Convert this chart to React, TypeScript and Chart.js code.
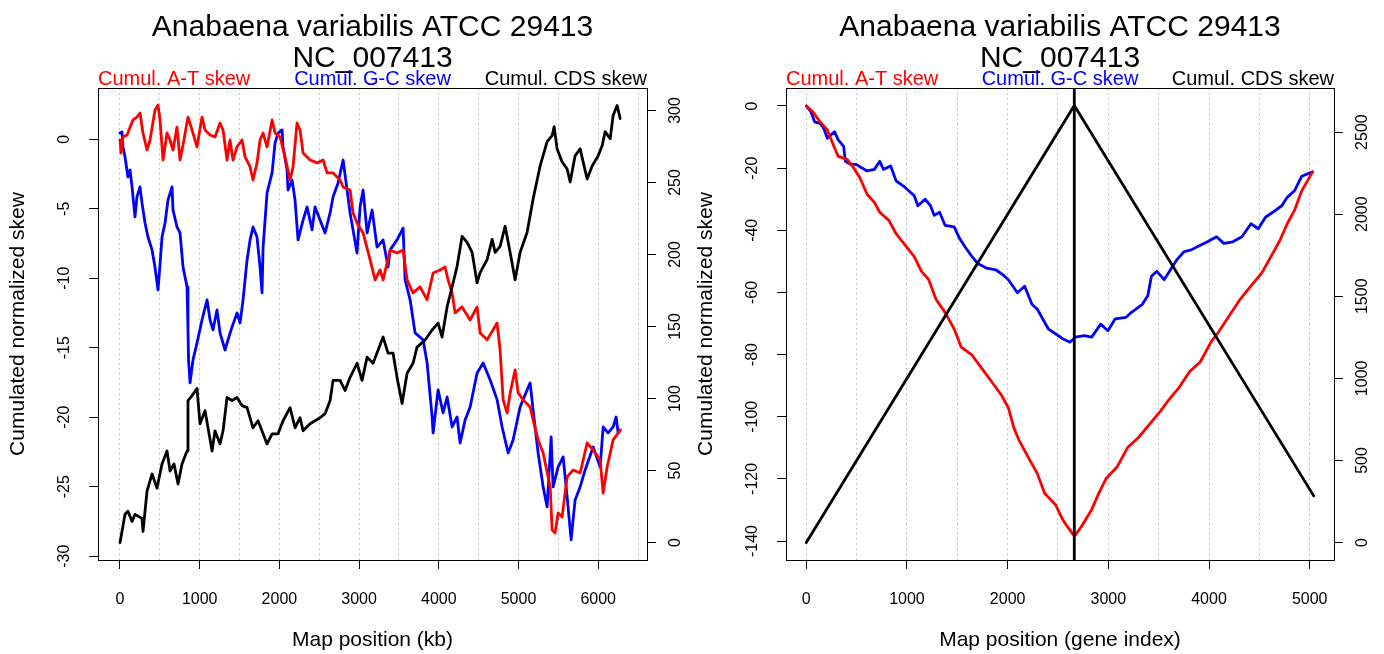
import React, { useEffect, useRef } from "react";
import { Chart, registerables } from "chart.js";

Chart.register(...registerables);

const FONT = "'Liberation Sans', Arial, Helvetica, sans-serif";
const W = 692;
const H = 654;

// ---------- texts ----------
const TITLE_LINES = ["Anabaena variabilis ATCC 29413", "NC_007413"];
const LEGEND_TEXTS = ["Cumul. A-T skew", "Cumul. G-C skew", "Cumul. CDS skew"];
const LEGEND_COLORS = ["#ff0000", "#0000ff", "#000000"];
const Y_TITLE = "Cumulated normalized skew";
const X_TITLE_KB = "Map position (kb)";
const X_TITLE_GENE = "Map position (gene index)";

// ---------- left panel data: position (kb) vs skew ----------
const AT_BY_KB: [number, number][] = [
  [0, -0.05], [13, -0.99], [38, 0.17], [88, 0.31], [163, 1.39], [213, 1.6], [251, 1.89], [288, 0.45],
  [339, -0.77], [377, -0.05], [439, 2.1], [477, 2.47], [502, 1.39], [540, -1.49], [590, 0.45], [628, -0.05],
  [665, -0.77], [715, 0.88], [753, -1.49], [791, -0.41], [853, 1.6], [904, 0.67], [966, -0.55], [1029, 1.6],
  [1067, 0.67], [1130, 0.31], [1192, 0.17], [1255, 1.17], [1293, 0.67], [1343, -1.49], [1380, -0.05],
  [1418, -1.49], [1468, -0.55], [1531, -0.05], [1569, -1.27], [1632, -1.99], [1669, -2.93], [1719, -1.7],
  [1757, -0.05], [1795, 0.45], [1845, -0.55], [1908, 1.39], [1945, 0.45], [2008, 0.17], [2071, -1.27],
  [2134, -2.93], [2171, -1.99], [2221, 1.17], [2259, 0.67], [2297, -0.99], [2385, -1.49], [2472, -1.7],
  [2548, -1.49], [2598, -2.42], [2673, -2.42], [2761, -2.93], [2799, -3.43], [2887, -3.65], [2924, -5.3],
  [2974, -6.02], [3050, -6.74], [3138, -8.68], [3200, -10.12], [3263, -9.4], [3301, -10.12], [3389, -7.96],
  [3476, -8.18], [3552, -7.96], [3602, -10.12], [3640, -10.62], [3677, -11.05], [3765, -10.62], [3853, -11.55],
  [3928, -9.62], [4016, -9.4], [4079, -9.19], [4116, -10.12], [4167, -11.05], [4204, -12.49], [4292, -12.06],
  [4393, -13.0], [4480, -12.06], [4518, -13.93], [4606, -14.43], [4681, -13.71], [4731, -13.22], [4769, -15.16],
  [4807, -18.75], [4857, -19.69], [4895, -18.25], [4957, -16.59], [4995, -18.25], [5058, -18.75], [5146, -19.26],
  [5183, -20.19], [5246, -21.63], [5309, -22.57], [5397, -25.01], [5422, -28.11], [5459, -28.32], [5497, -26.88],
  [5547, -27.17], [5610, -24.29], [5685, -23.79], [5773, -24.01], [5861, -21.85], [5936, -22.35], [6024, -23.07],
  [6062, -25.45], [6112, -23.58], [6187, -21.63], [6250, -21.13], [6275, -20.91],
];

const GC_BY_KB: [number, number][] = [
  [0, 0.45], [25, 0.53], [38, -0.55], [63, -1.27], [100, -2.71], [126, -2.21], [151, -3.43], [188, -5.59],
  [213, -4.15], [251, -3.43], [276, -4.58], [314, -6.02], [351, -7.03], [402, -7.96], [439, -9.19], [477, -10.84],
  [502, -9.04], [527, -7.03], [565, -6.02], [602, -4.37], [653, -3.43], [665, -5.09], [715, -6.31], [753, -6.74],
  [791, -9.19], [841, -10.62], [853, -13.71], [860, -15.87], [879, -17.53], [916, -15.87], [966, -14.65],
  [1029, -13.0], [1092, -11.55], [1130, -13.0], [1167, -13.71], [1217, -12.28], [1255, -13.93], [1318, -15.16],
  [1355, -14.43], [1406, -13.5], [1468, -12.49], [1506, -13.22], [1544, -11.55], [1594, -8.68], [1632, -7.24],
  [1669, -6.31], [1719, -7.03], [1757, -9.19], [1782, -11.05], [1795, -7.8], [1845, -3.86], [1908, -2.42],
  [1945, -0.27], [1983, 0.45], [2033, 0.67], [2046, -0.55], [2096, -2.21], [2108, -3.65], [2159, -2.93],
  [2196, -4.37], [2234, -7.24], [2297, -5.81], [2347, -4.87], [2410, -6.52], [2447, -4.87], [2510, -5.81],
  [2573, -6.74], [2636, -5.3], [2673, -4.15], [2736, -3.14], [2799, -1.49], [2849, -3.65], [2887, -5.3],
  [2924, -6.52], [2974, -8.18], [3012, -4.87], [3050, -3.65], [3100, -6.74], [3163, -5.09], [3225, -7.76],
  [3301, -7.24], [3363, -9.19], [3389, -7.96], [3476, -7.24], [3552, -6.39], [3577, -10.12], [3640, -11.55],
  [3702, -13.93], [3803, -14.43], [3853, -16.09], [3916, -19.98], [3928, -21.13], [3991, -18.03], [4054, -19.69],
  [4104, -18.54], [4167, -20.7], [4229, -19.98], [4267, -21.85], [4330, -20.19], [4393, -19.26], [4480, -16.81],
  [4556, -16.09], [4644, -17.32], [4732, -18.75], [4794, -20.7], [4870, -22.57], [4932, -21.63], [5020, -19.26],
  [5108, -18.03], [5146, -17.53], [5183, -19.47], [5246, -22.57], [5309, -25.01], [5359, -26.45], [5409, -21.42],
  [5434, -25.01], [5497, -23.57], [5560, -22.85], [5610, -25.73], [5660, -28.82], [5710, -25.95], [5773, -25.01],
  [5836, -23.79], [5936, -22.14], [6024, -23.58], [6062, -20.7], [6124, -21.13], [6187, -20.7], [6225, -19.98],
  [6250, -21.13], [6275, -20.91],
];

const CDS_BY_KB: [number, number][] = [
  [0, 0], [25, 7.7], [63, 19.6], [100, 21.7], [151, 14.7], [188, 19.6], [276, 16.8], [289, 7.7], [339, 35.7],
  [402, 47.6], [464, 37.8], [527, 54.5], [590, 63.6], [628, 49.7], [678, 54.5], [728, 40.6], [778, 54.5],
  [841, 63.6], [853, 98.6], [904, 102], [966, 107], [1004, 82.5], [1067, 91.6], [1155, 63.6], [1192, 77.6],
  [1255, 68.5], [1293, 77.6], [1343, 100.7], [1406, 98.6], [1468, 100.7], [1531, 95.1], [1594, 93.7],
  [1669, 79.7], [1732, 84.6], [1845, 68.5], [1908, 75.5], [1983, 75.5], [2046, 84.6], [2134, 93.7],
  [2196, 79.7], [2259, 86.7], [2297, 77.6], [2385, 82.5], [2510, 86.7], [2573, 89.5], [2636, 98.6],
  [2673, 112.6], [2761, 112.6], [2824, 105.6], [2887, 114.7], [2974, 124.5], [3037, 112.6], [3100, 128.7],
  [3175, 124.5], [3301, 142.7], [3363, 131.5], [3426, 131.5], [3476, 114.7], [3539, 96.5], [3602, 117.5],
  [3677, 124.5], [3727, 135.7], [3828, 140.6], [3916, 147.6], [3991, 152.4], [4041, 142.7], [4104, 163.6],
  [4167, 177.6], [4229, 191.6], [4292, 212.6], [4355, 208.4], [4418, 201.4], [4480, 180.4], [4518, 187.4],
  [4606, 196.5], [4669, 210.5], [4707, 201.4], [4769, 205.6], [4832, 219.6], [4895, 201.4], [4957, 182.5],
  [5020, 201.4], [5108, 215.4], [5183, 238.5], [5271, 261.5], [5359, 278.3], [5422, 282.5], [5447, 288.8],
  [5484, 273.4], [5547, 264.3], [5610, 259.4], [5648, 250.3], [5710, 268.5], [5773, 273.4], [5811, 264.3],
  [5861, 252.4], [5924, 261.5], [5999, 268.5], [6049, 275.5], [6087, 285.3], [6150, 280.4], [6187, 296.5],
  [6237, 303.5], [6275, 294.4],
];

// ---------- right panel data: gene index vs skew ----------
const AT_BY_GENE: [number, number][] = [
  [0, 0], [65, -1.9], [137, -5.1], [209, -7.7], [281, -13.5], [317, -16.2], [406, -17.2], [460, -19.4],
  [532, -23.1], [604, -28.4], [676, -31.0], [730, -34.2], [820, -36.8], [892, -41.1], [982, -44.8],
  [1072, -48.5], [1144, -53.2], [1216, -55.9], [1288, -62.2], [1378, -66.4], [1468, -71.7], [1539, -77.6],
  [1647, -80.2], [1719, -83.4], [1791, -86.5], [1863, -89.7], [1935, -92.9], [2007, -97.1], [2061, -103.5],
  [2115, -107.7], [2223, -114.1], [2295, -118.3], [2367, -124.6], [2475, -128.3], [2547, -133.1],
  [2601, -135.7], [2662, -138.4], [2726, -135.7], [2834, -129.9], [2906, -124.6], [2978, -119.9],
  [3086, -116.2], [3194, -109.8], [3302, -106.6], [3410, -102.4], [3518, -98.2], [3590, -95.0], [3698, -90.8],
  [3806, -85.5], [3914, -82.3], [4021, -75.9], [4093, -72.8], [4201, -67.5], [4309, -62.2], [4417, -57.9],
  [4525, -53.7], [4597, -49.5], [4705, -43.2], [4777, -37.9], [4849, -33.6], [4921, -27.3], [5029, -21.2],
];

const GC_BY_GENE: [number, number][] = [
  [0, 0], [47, -1.9], [83, -5.1], [137, -5.6], [173, -7.2], [209, -10.4], [245, -9.3], [281, -8.3],
  [317, -10.9], [371, -13.0], [388, -17.8], [442, -18.8], [496, -18.8], [550, -19.9], [604, -20.9],
  [676, -20.4], [730, -17.8], [766, -20.4], [838, -19.3], [892, -24.1], [982, -26.2], [1072, -28.9],
  [1108, -32.1], [1180, -30.0], [1234, -32.1], [1270, -35.2], [1324, -34.2], [1378, -38.4], [1468, -38.9],
  [1522, -42.6], [1576, -45.3], [1647, -48.5], [1701, -50.6], [1791, -52.2], [1881, -52.7], [1953, -54.3],
  [2007, -55.9], [2097, -60.1], [2169, -58.0], [2241, -63.8], [2295, -65.4], [2331, -67.5], [2403, -71.7],
  [2475, -73.3], [2547, -74.9], [2619, -76.0], [2673, -74.4], [2762, -73.9], [2834, -74.4], [2924, -70.2],
  [2996, -72.3], [3068, -68.5], [3176, -68.0], [3230, -66.4], [3338, -63.8], [3392, -61.1], [3428, -54.8],
  [3482, -53.2], [3554, -55.9], [3608, -53.2], [3680, -49.5], [3751, -46.9], [3823, -46.3], [3913, -44.8],
  [3985, -43.7], [4075, -42.1], [4147, -44.2], [4237, -43.7], [4327, -42.1], [4417, -37.9], [4489, -39.5],
  [4561, -35.8], [4633, -34.2], [4723, -32.1], [4777, -29.4], [4849, -27.3], [4921, -22.6], [5029, -21.2],
];

const CDS_BY_GENE: [number, number][] = [[0, 0], [2662, 2662], [5040, 284]];
const ORIGIN_GENE = 2662;

// ---------- ticks / grid ----------
const KB_TICKS = [0, 1000, 2000, 3000, 4000, 5000, 6000];
const KB_GRID = [0, 500, 1000, 1500, 2000, 2500, 3000, 3500, 4000, 4500, 5000, 5500, 6000, 6500];
const SKEW_TICKS_KB = [-30, -25, -20, -15, -10, -5, 0];
const CDS_TICKS_KB = [0, 50, 100, 150, 200, 250, 300];
const GENE_TICKS = [0, 1000, 2000, 3000, 4000, 5000];
const GENE_GRID = [0, 500, 1000, 1500, 2000, 2500, 3000, 3500, 4000, 4500, 5000];
const SKEW_TICKS_GENE = [-140, -120, -100, -80, -60, -40, -20, 0];
const CDS_TICKS_GENE = [0, 500, 1000, 1500, 2000, 2500];

// axis ranges
const KB_RANGE: [number, number] = [-276, 6612];
const SKEW_RANGE_KB: [number, number] = [-30.27, 3.69];
const CDS_RANGE_KB: [number, number] = [-12.1, 315.6];
const GENE_RANGE: [number, number] = [-201.6, 5241.6];
const SKEW_RANGE_GENE: [number, number] = [-146.1, 5.79];
const CDS_RANGE_GENE: [number, number] = [-106.5, 2768.5];

// ---------- layout constants ----------
const TICK_FONT = 16;
const LAB_FONT = 21;
const TITLE_FONT = 30;
const LEGEND_FONT = 20;
const TICK_LEN = 9;
const BOX_TOP = 88;
const BOX_BOTTOM = 560;

function maxTextWidth(labels: string[], size: number) {
  const c = document.createElement("canvas").getContext("2d")!;
  c.font = `${size}px ${FONT}`;
  return Math.max(...labels.map((l) => c.measureText(l).width));
}

const pts = (arr: [number, number][]) => arr.map(([x, y]) => ({ x, y }));

type PanelSpec = {
  left: number;
  right: number;
  xRange: [number, number];
  yRange: [number, number];
  y2Range: [number, number];
  xTicks: number[];
  xGrid: number[];
  yTicks: number[];
  y2Ticks: number[];
  xTitle: string;
  datasets: any[];
};

const decorPlugin = {
  id: "decor",
  afterDraw(chart: any) {
    const { ctx, chartArea } = chart;
    const { left, right, top, bottom } = chartArea;
    ctx.save();
    ctx.strokeStyle = "#000";
    ctx.lineWidth = 1;
    ctx.strokeRect(Math.round(left) + 0.5, Math.round(top) + 0.5, Math.round(right - left), Math.round(bottom - top));
    const cx = (left + right) / 2;
    ctx.fillStyle = "#000";
    ctx.textBaseline = "alphabetic";
    ctx.textAlign = "center";
    ctx.font = `${TITLE_FONT}px ${FONT}`;
    ctx.fillText(TITLE_LINES[0], cx, 36);
    ctx.fillText(TITLE_LINES[1], cx, 67);
    ctx.font = `${LEGEND_FONT}px ${FONT}`;
    const aligns: CanvasTextAlign[] = ["left", "center", "right"];
    const xs = [left, cx, right];
    LEGEND_TEXTS.forEach((t, i) => {
      ctx.fillStyle = LEGEND_COLORS[i];
      ctx.textAlign = aligns[i];
      ctx.fillText(t, xs[i], 85);
    });
    ctx.restore();
  },
};

function buildConfig(p: PanelSpec): any {
  const fmt = (v: any) => String(v);
  const yW = maxTextWidth(p.yTicks.map(fmt), TICK_FONT);
  const y2W = maxTextWidth(p.y2Ticks.map(fmt), TICK_FONT);
  const yPad = 33 - TICK_LEN - yW / 2;
  const y2Pad = 28.5 - TICK_LEN - y2W / 2;
  const xPad = 600 - BOX_BOTTOM - TICK_LEN - (TICK_FONT * 1.2) / 2;
  const setTicks = (list: number[]) => (s: any) => {
    s.ticks = list.map((v) => ({ value: v }));
  };
  return {
    type: "line",
    data: { datasets: p.datasets },
    options: {
      animation: false,
      responsive: false,
      devicePixelRatio: 1,
      events: [],
      layout: { padding: { left: 0, right: 0, top: BOX_TOP, bottom: 0 } },
      plugins: { legend: { display: false }, tooltip: { enabled: false }, title: { display: false } },
      elements: { point: { radius: 0 }, line: { tension: 0 } },
      scales: {
        x: {
          type: "linear",
          position: "bottom",
          min: p.xRange[0],
          max: p.xRange[1],
          afterBuildTicks: setTicks(p.xTicks),
          afterFit: (s: any) => {
            s.height = H - BOX_BOTTOM;
          },
          grid: { display: true, drawOnChartArea: false, drawTicks: true, tickLength: TICK_LEN, tickColor: "#000", color: "#000", lineWidth: 1 },
          border: { display: false },
          ticks: { display: true, font: { family: FONT, size: TICK_FONT }, color: "#000", padding: xPad, maxRotation: 0, minRotation: 0, autoSkip: false, callback: fmt },
          title: { display: true, text: p.xTitle, font: { family: FONT, size: LAB_FONT }, color: "#000", padding: { top: 0, bottom: 1.5 } },
        },
        xg: {
          type: "linear",
          position: "bottom",
          min: p.xRange[0],
          max: p.xRange[1],
          afterBuildTicks: setTicks(p.xGrid),
          afterFit: (s: any) => {
            s.height = 0;
          },
          grid: { display: true, drawOnChartArea: true, drawTicks: false, color: "#c4c4c4", lineWidth: 1 },
          border: { display: false, dash: [2, 3] },
          ticks: { display: false },
        },
        y: {
          type: "linear",
          position: "left",
          min: p.yRange[0],
          max: p.yRange[1],
          afterBuildTicks: setTicks(p.yTicks),
          afterFit: (s: any) => {
            s.width = p.left;
          },
          grid: { display: true, drawOnChartArea: false, drawTicks: true, tickLength: TICK_LEN, tickColor: "#000", color: "#000", lineWidth: 1 },
          border: { display: false },
          ticks: { display: true, font: { family: FONT, size: TICK_FONT }, color: "#000", padding: yPad, minRotation: 90, maxRotation: 90, crossAlign: "center", autoSkip: false, callback: fmt },
          title: { display: true, text: Y_TITLE, font: { family: FONT, size: LAB_FONT }, color: "#000", padding: { top: p.left - 79.3 - (LAB_FONT * 1.2) / 2, bottom: 0 } },
        },
        y2: {
          type: "linear",
          position: "right",
          min: p.y2Range[0],
          max: p.y2Range[1],
          afterBuildTicks: setTicks(p.y2Ticks),
          afterFit: (s: any) => {
            s.width = W - p.right;
          },
          grid: { display: true, drawOnChartArea: false, drawTicks: true, tickLength: TICK_LEN, tickColor: "#000", color: "#000", lineWidth: 1 },
          border: { display: false },
          ticks: { display: true, font: { family: FONT, size: TICK_FONT }, color: "#000", padding: y2Pad, minRotation: 90, maxRotation: 90, crossAlign: "center", autoSkip: false, callback: fmt },
        },
      },
    },
    plugins: [decorPlugin],
  };
}

const lineDs = (data: [number, number][], color: string, axis: string) => ({
  data: pts(data),
  borderColor: color,
  backgroundColor: color,
  borderWidth: 2.8,
  pointRadius: 0,
  fill: false,
  yAxisID: axis,
  xAxisID: "x",
  borderJoinStyle: "round",
  borderCapStyle: "round",
});

function Panel({ spec, offset }: { spec: () => PanelSpec; offset: number }) {
  const ref = useRef<HTMLCanvasElement>(null);
  useEffect(() => {
    const chart = new Chart(ref.current!, buildConfig(spec()));
    return () => chart.destroy();
  }, []);
  return (
    <canvas
      ref={ref}
      width={W}
      height={H}
      style={{ position: "absolute", left: offset, top: 0, width: W, height: H, display: "block" }}
    />
  );
}

const leftSpec = (): PanelSpec => ({
  left: 98,
  right: 647,
  xRange: KB_RANGE,
  yRange: SKEW_RANGE_KB,
  y2Range: CDS_RANGE_KB,
  xTicks: KB_TICKS,
  xGrid: KB_GRID,
  yTicks: SKEW_TICKS_KB,
  y2Ticks: CDS_TICKS_KB,
  xTitle: X_TITLE_KB,
  datasets: [
    lineDs(CDS_BY_KB, "#000000", "y2"),
    lineDs(AT_BY_KB, "#ff0000", "y"),
    lineDs(GC_BY_KB, "#0000ff", "y"),
  ],
});

const rightSpec = (): PanelSpec => ({
  left: 94,
  right: 642,
  xRange: GENE_RANGE,
  yRange: SKEW_RANGE_GENE,
  y2Range: CDS_RANGE_GENE,
  xTicks: GENE_TICKS,
  xGrid: GENE_GRID,
  yTicks: SKEW_TICKS_GENE,
  y2Ticks: CDS_TICKS_GENE,
  xTitle: X_TITLE_GENE,
  datasets: [
    lineDs(
      [
        [ORIGIN_GENE, SKEW_RANGE_GENE[0]],
        [ORIGIN_GENE, SKEW_RANGE_GENE[1]],
      ],
      "#000000",
      "y"
    ),
    lineDs(CDS_BY_GENE, "#000000", "y2"),
    lineDs(AT_BY_GENE, "#ff0000", "y"),
    lineDs(GC_BY_GENE, "#0000ff", "y"),
  ],
});

export default function App() {
  return (
    <div style={{ position: "absolute", left: 0, top: 0, width: W * 2, height: H, background: "#fff" }}>
      <Panel spec={leftSpec} offset={0} />
      <Panel spec={rightSpec} offset={W} />
    </div>
  );
}
